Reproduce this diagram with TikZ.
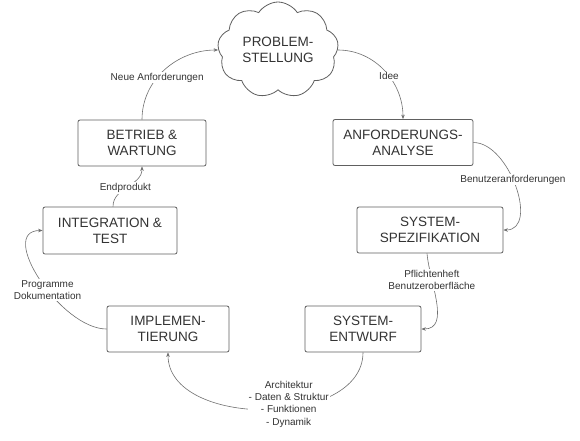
\documentclass[tikz,border=0pt]{standalone}
\usepackage{fontspec}
\setmainfont{Liberation Sans}
\usetikzlibrary{shapes.symbols,arrows.meta}
\definecolor{txt}{HTML}{333333}
\definecolor{ln}{HTML}{707070}
\definecolor{bx}{HTML}{606060}
\begin{document}
\begin{tikzpicture}[x=1pt,y=1pt,
 phase/.style={draw=bx, line width=0.8pt, rounded corners=2pt, minimum height=46pt, text=txt, font=\fontsize{13.5}{16}\selectfont, align=center, inner sep=0pt},
 flow/.style={draw=ln, line width=0.6pt, -{Stealth[length=4.5pt,width=3.5pt]}},
 lbl/.style={fill=white, text=txt, font=\fontsize{10}{12.3}\selectfont, align=center, inner sep=1pt}]
\fill[white] (0,0) rectangle (580,-440);
\useasboundingbox (0,0) rectangle (580,-440);
\node[cloud, draw=bx, line width=0.8pt, cloud puffs=9, cloud puff arc=115, aspect=1.25, minimum width=121pt, minimum height=96pt, inner sep=0pt, text=txt, font=\fontsize{13.5}{16}\selectfont, align=center] (prob) at (278,-50) {PROBLEM-\\STELLUNG};
\node[phase, minimum width=140pt] (anf) at (403,-142.5) {ANFORDERUNGS-\\ANALYSE};
\node[phase, minimum width=146pt] (spec) at (430,-230) {SYSTEM-\\SPEZIFIKATION};
\node[phase, minimum width=116pt] (entw) at (363,-329) {SYSTEM-\\ENTWURF};
\node[phase, minimum width=122pt] (impl) at (168,-329) {IMPLEMEN-\\TIERUNG};
\node[phase, minimum width=134pt, minimum height=47pt] (integ) at (110,-230.5) {INTEGRATION \&\\TEST};
\node[phase, minimum width=128pt] (betr) at (142,-143) {BETRIEB \&\\WARTUNG};
\draw[flow] (betr.north) to[out=90,in=180] node[lbl,pos=0.4]{Neue Anforderungen} (prob.west);
\draw[flow] (prob.east) to[out=0,in=90] node[lbl,pos=0.57]{Idee} (anf.north);
\draw[flow] (anf.east) to[out=0,in=0] node[lbl,pos=0.45]{Benutzeranforderungen} (spec.east);
\draw[flow] ([xshift=-3pt]spec.south) to[out=-85,in=0] node[lbl,pos=0.27]{Pflichtenheft\\Benutzeroberfläche} (entw.east);
\draw[flow] (entw.south) to[out=-90,in=-90] node[lbl,pos=0.42,yshift=4pt]{Architektur\\- Daten \& Struktur\\- Funktionen\\- Dynamik} (impl.south);
\draw[flow] (impl.west) to[out=180,in=180] node[lbl,pos=0.43]{Programme\\Dokumentation} (integ.west);
\draw[flow] ([xshift=3pt]integ.north) to[out=90,in=-90] node[lbl,pos=0.45]{Endprodukt} (betr.south);
\end{tikzpicture}
\end{document}
